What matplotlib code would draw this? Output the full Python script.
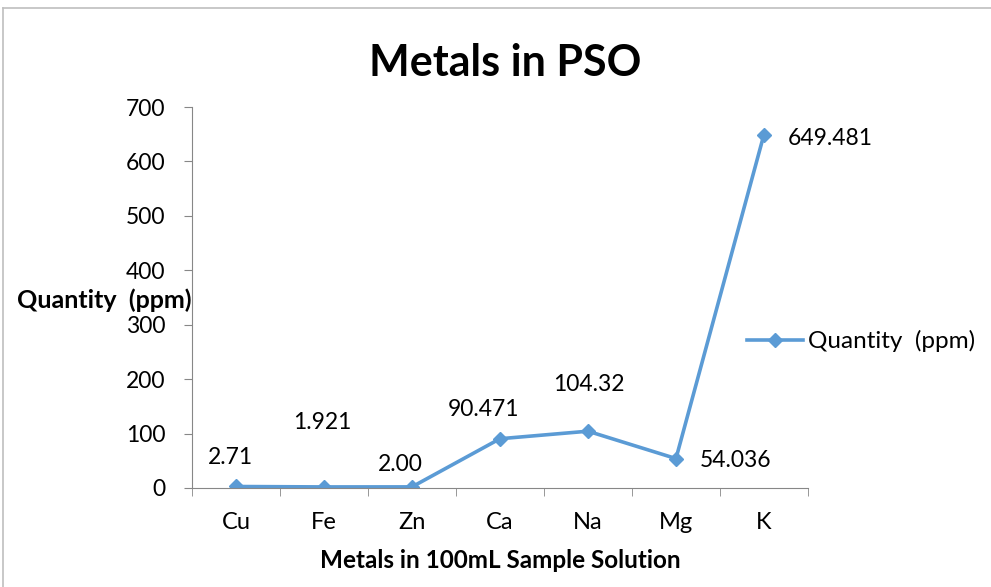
import matplotlib.pyplot as plt
from matplotlib.lines import Line2D

# data
metals = ["Cu", "Fe", "Zn", "Ca", "Na", "Mg", "K"]
quantity = [2.71, 1.921, 2.00, 90.471, 104.32, 54.036, 649.481]
value_labels = ["2.71", "1.921", "2.00", "90.471", "104.32", "54.036", "649.481"]
y_ticks = [0, 100, 200, 300, 400, 500, 600, 700]

plt.rcParams['font.family'] = ['Lato', 'DejaVu Sans']

fig = plt.figure(figsize=(9.91, 5.87), dpi=100)
ax = fig.add_axes([0.1937, 0.1687, 0.6216, 0.649])

blue = "#5B9BD5"
x = list(range(len(metals)))
ax.plot(x, quantity, color=blue, lw=2.6, marker="D", markersize=7.5,
        label="Quantity  (ppm)")

# data labels (offsets in pixels from the point)
offsets = [(-6, 29, 'center'), (-2, 64, 'center'), (-12, 22, 'center'),
           (-16, 29, 'center'), (1, 47, 'center'), (24, -2, 'left'), (24, -4, 'left')]
for xi, yi, txt, (dx, dy, ha) in zip(x, quantity, value_labels, offsets):
    ax.annotate(txt, (xi, yi), xytext=(dx, dy), textcoords='offset pixels',
                ha=ha, va='center', fontsize=16.5)

ax.set_xlim(-0.5, len(metals) - 0.5)
ax.set_ylim(0, 700)
ax.set_yticks(y_ticks)
ax.set_xticks(x)
ax.set_xticklabels(metals)
ax.set_xticks([i - 0.5 for i in range(len(metals) + 1)], minor=True)
ax.tick_params(axis='x', which='major', length=0, labelsize=17, pad=17)
ax.tick_params(axis='x', which='minor', length=6, color="#878787", direction='out')
ax.tick_params(axis='y', length=6, color="#878787", labelsize=16.5, pad=13)

for s in ['top', 'right']:
    ax.spines[s].set_visible(False)
ax.spines['left'].set_color("#878787")
ax.spines['bottom'].set_color("#878787")

ax.set_title("Metals in PSO", fontsize=31, fontweight='bold', pad=22, x=0.508)
ax.set_xlabel("Metals in 100mL Sample Solution", fontsize=17.5, fontweight='bold', labelpad=12)
ax.set_ylabel("Quantity  (ppm)", fontsize=18, fontweight='bold', rotation=0,
              ha='right', va='center')
ax.yaxis.set_label_coords(0.0, 0.493)

ax.legend(loc='center left', bbox_to_anchor=(0.742, 0.419), bbox_transform=fig.transFigure,
          frameon=False, fontsize=17.5, handlelength=2.3, handletextpad=0.2, borderpad=0)

# chart frame (top and left edges visible)
fig.add_artist(Line2D([0.003, 0.003], [0, 0.986], color="#BFBFBF", lw=1.2,
                      transform=fig.transFigure))
fig.add_artist(Line2D([0.003, 1.0], [0.986, 0.986], color="#BFBFBF", lw=1.2,
                      transform=fig.transFigure))

fig.savefig("out.png", dpi=100)
